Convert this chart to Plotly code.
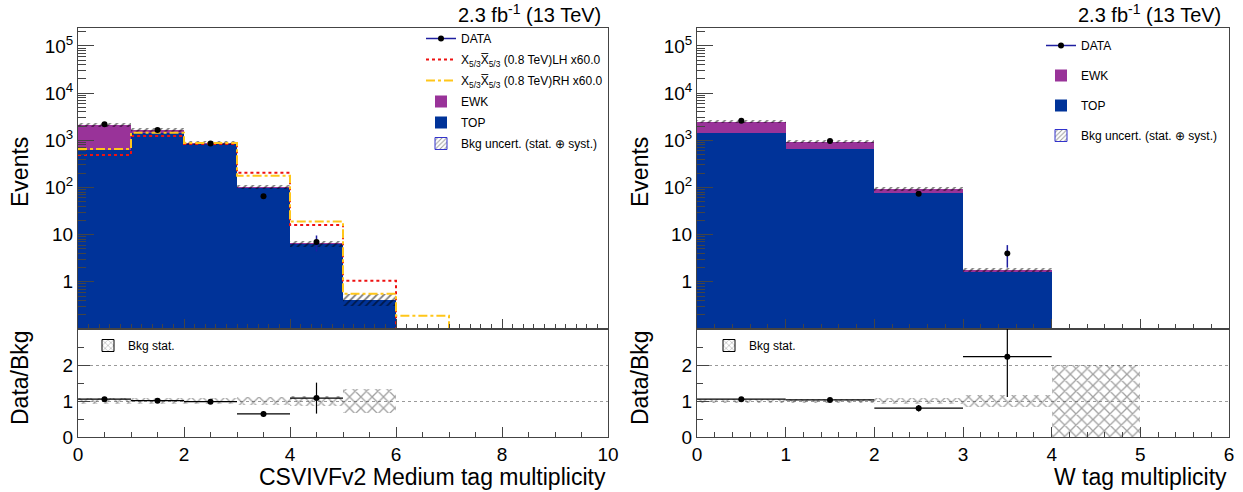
import plotly.graph_objects as go

# ---------------- data ----------------
# Left panel: CSVIVFv2 Medium tag multiplicity (bins 0..9)
left_edges = [0, 1, 2, 3, 4, 5, 6, 7, 8, 9, 10]
left_centers = [0.5, 1.5, 2.5, 3.5, 4.5, 5.5, 6.5, 7.5, 8.5, 9.5]
left_top = [620, 1400, 835, 97, 6.3, 0.42, 0, 0, 0, 0]
left_ewk = [1470, 260, 55, 6, 0.2, 0.0, 0, 0, 0, 0]
left_unc = [220, 150, 80, 12, 0.9, 0.12, 0, 0, 0, 0]
left_lh = [490, 1230, 835, 205, 16, 1.05, 0, 0, 0, 0]
left_rh = [650, 1450, 880, 178, 19, 0.56, 0.19, 0, 0, 0]
left_data_x = [0.5, 1.5, 2.5, 3.5, 4.5]
left_data = [2190, 1660, 860, 65, 7]
left_data_err = [47, 41, 29, 8, 2.6]
left_ratio = [1.05, 1.01, 0.98, 0.64, 1.08]
left_ratio_err = [0.03, 0.03, 0.04, 0.08, 0.43]
left_stat_x = [0.5, 1.5, 2.5, 3.5, 4.5, 5.5]
left_stat_err = [0.09, 0.09, 0.09, 0.12, 0.13, 0.32]

# Right panel: W tag multiplicity (bins 0..5)
right_centers = [0.5, 1.5, 2.5, 3.5, 4.5, 5.5]
right_top = [1400, 660, 78, 1.64, 0, 0]
right_ewk = [1090, 275, 14, 0.14, 0, 0]
right_unc = [200, 70, 9, 0.2, 0, 0]
right_data_x = [0.5, 1.5, 2.5, 3.5]
right_data = [2610, 960, 74, 4]
right_data_err = [51, 31, 8.6, 2]
right_ratio = [1.05, 1.03, 0.80, 2.23]
right_ratio_err = [0.025, 0.04, 0.09, 1.12]
right_stat_x = [0.5, 1.5, 2.5, 3.5, 4.5]
right_stat_err = [0.05, 0.05, 0.07, 0.17, 1.0]

log_tickvals = [1, 10, 100, 1000, 10000, 100000]
log_ticktext = ["1", "10", "10<sup>2</sup>", "10<sup>3</sup>", "10<sup>4</sup>", "10<sup>5</sup>"]
lumi_text = "2.3 fb<sup>-1</sup> (13 TeV)"
sig_lh_name = "X<sub>5/3</sub>X\u0305<sub>5/3</sub> (0.8 TeV)LH x60.0"
sig_rh_name = "X<sub>5/3</sub>X\u0305<sub>5/3</sub> (0.8 TeV)RH x60.0"

# ---------------- style ----------------
W, H = 1243, 492
FONT = "Liberation Sans, Arial, sans-serif"
C_TOP = "#003399"
C_EWK = "#993399"
C_DATA_LINE = "#1f1fa0"
C_FRAME = "#444444"


def px(x):
    return x / W


def py(y):
    return 1 - y / H


LX = [px(78), px(608)]
RX = [px(697), px(1229)]
TOPY = [py(329), py(28)]
RATY = [py(437), py(329)]

fig = go.Figure()


def tiny(vals):
    return [v if v > 0 else 1e-4 for v in vals]


def add_top(xa, ya, centers, top, ewk, unc, dx, dy, dyerr, legend, sigs):
    total = [t + e for t, e in zip(top, ewk)]
    # EWK drawn as full stack height, TOP drawn over it
    fig.add_trace(go.Bar(x=centers, y=tiny(total), width=1, marker=dict(color=C_EWK, line=dict(width=0)),
                         name="EWK", legend=legend, legendgroup=legend + "ewk", legendrank=4,
                         xaxis=xa, yaxis=ya, hoverinfo="skip"))
    fig.add_trace(go.Bar(x=centers, y=tiny(top), width=1, marker=dict(color=C_TOP, line=dict(width=0)),
                         name="TOP", legend=legend, legendgroup=legend + "top", legendrank=5,
                         xaxis=xa, yaxis=ya, hoverinfo="skip"))
    ux, ub, uy = [], [], []
    for c, t, u in zip(centers, total, unc):
        if t > 0 and u > 0:
            ux.append(c)
            ub.append(t - u)
            uy.append(2 * u)
    fig.add_trace(go.Bar(x=ux, y=uy, base=ub, width=1,
                         marker=dict(color="rgba(0,0,0,0)", line=dict(width=0),
                                     pattern=dict(shape="/", fgcolor="#000000", size=5, solidity=0.35)),
                         showlegend=False, xaxis=xa, yaxis=ya, hoverinfo="skip"))
    fig.add_trace(go.Bar(x=[None], y=[None], width=1,
                         marker=dict(color="rgba(255,255,255,0)", line=dict(width=1, color="#3333cc"),
                                     pattern=dict(shape="/", fgcolor="#333333", size=4, solidity=0.3)),
                         name="Bkg uncert. (stat. \u2295 syst.)", legend=legend,
                         legendgroup=legend + "unc", legendrank=6, xaxis=xa, yaxis=ya))
    for (edges, vals, name, color, dash, rank) in sigs:
        fig.add_trace(go.Scatter(x=edges, y=tiny(vals + [vals[-1]]), mode="lines", line_shape="hv",
                                 line=dict(color=color, width=2, dash=dash), name=name,
                                 legend=legend, legendgroup=legend + name, legendrank=rank,
                                 xaxis=xa, yaxis=ya, hoverinfo="skip"))
    fig.add_trace(go.Scatter(x=dx, y=dy, mode="markers",
                             marker=dict(color="black", size=6),
                             error_y=dict(type="data", array=dyerr, color=C_DATA_LINE, thickness=1.5, width=0),
                             showlegend=False, xaxis=xa, yaxis=ya, hoverinfo="skip"))
    fig.add_trace(go.Scatter(x=[None], y=[None], mode="lines+markers",
                             marker=dict(color="black", size=6), line=dict(color=C_DATA_LINE, width=1.5),
                             name="DATA", legend=legend, legendgroup=legend + "data", legendrank=1,
                             xaxis=xa, yaxis=ya))


def add_ratio(xa, ya, stat_x, stat_err, rx, r, rerr, legend):
    fig.add_trace(go.Bar(x=stat_x, y=[2 * e for e in stat_err], base=[1 - e for e in stat_err], width=1,
                         marker=dict(color="rgba(0,0,0,0)", line=dict(width=0),
                                     pattern=dict(shape="x", fgcolor="#444444", size=8, solidity=0.3)),
                         showlegend=False, xaxis=xa, yaxis=ya, hoverinfo="skip"))
    fig.add_trace(go.Bar(x=[None], y=[None], width=1,
                         marker=dict(color="rgba(255,255,255,0)", line=dict(width=1, color="black"),
                                     pattern=dict(shape="x", fgcolor="#444444", size=5, solidity=0.25)),
                         name="Bkg stat.", legend=legend, xaxis=xa, yaxis=ya))
    fig.add_trace(go.Scatter(x=rx, y=r, mode="markers", marker=dict(color="black", size=6),
                             error_y=dict(type="data", array=rerr, color="black", thickness=1.2, width=0),
                             error_x=dict(type="constant", value=0.5, color="black", thickness=1.2, width=0),
                             showlegend=False, xaxis=xa, yaxis=ya, hoverinfo="skip"))


add_top("x", "y", left_centers, left_top, left_ewk, left_unc,
        left_data_x, left_data, left_data_err, "legend",
        [(left_edges, left_lh, sig_lh_name, "#ee1111", "dot", 2),
         (left_edges, left_rh, sig_rh_name, "#ffc61a", "dashdot", 3)])
add_ratio("x2", "y2", left_stat_x, left_stat_err, left_data_x, left_ratio, left_ratio_err, "legend3")
add_top("x3", "y3", right_centers, right_top, right_ewk, right_unc,
        right_data_x, right_data, right_data_err, "legend2", [])
add_ratio("x4", "y4", right_stat_x, right_stat_err, right_data_x, right_ratio, right_ratio_err, "legend4")

tickfont = dict(family=FONT, size=19, color="black")


def xaxis_cfg(domain, rng, dtick, minor_dtick, anchor, labels):
    return dict(domain=domain, range=rng, anchor=anchor, automargin=False, showline=True, mirror=True,
                linecolor=C_FRAME, linewidth=1, ticks="inside", ticklen=10, tickcolor=C_FRAME, dtick=dtick,
                tick0=0, showticklabels=labels, tickfont=tickfont, showgrid=False, zeroline=False,
                minor=dict(ticks="inside", ticklen=5, tickcolor=C_FRAME, dtick=minor_dtick, showgrid=False))


def ytop_cfg(domain, anchor):
    return dict(domain=domain, type="log", range=[-1, 5.38], anchor=anchor, automargin=False,
                showline=True, mirror=True, linecolor=C_FRAME, linewidth=1, ticks="inside", ticklen=16,
                tickcolor=C_FRAME, tickmode="array", tickvals=log_tickvals, ticktext=log_ticktext,
                tickfont=tickfont, showgrid=False, zeroline=False,
                minor=dict(ticks="inside", ticklen=8, tickcolor=C_FRAME, dtick="D1", showgrid=False))


def yrat_cfg(domain, anchor):
    return dict(domain=domain, range=[0, 3], anchor=anchor, automargin=False, showline=True, mirror=True,
                linecolor=C_FRAME, linewidth=1, ticks="inside", ticklen=12, tickcolor=C_FRAME,
                tickmode="array", tickvals=[0, 1, 2], tickfont=tickfont, showgrid=True,
                gridcolor="#9a9a9a", griddash="dot", gridwidth=1, zeroline=False,
                minor=dict(ticks="inside", ticklen=6, tickcolor=C_FRAME, dtick=0.5, showgrid=False))


legfont = dict(family=FONT, size=12, color="black")

fig.update_layout(
    width=W, height=H, autosize=False,
    margin=dict(l=0, r=0, t=0, b=0),
    paper_bgcolor="white", plot_bgcolor="white",
    barmode="overlay", bargap=0,
    font=dict(family=FONT, color="black"),
    xaxis=xaxis_cfg(LX, [0, 10], 2, 0.2, "y", False),
    yaxis=ytop_cfg(TOPY, "x"),
    xaxis2=xaxis_cfg(LX, [0, 10], 2, 0.5, "y2", True),
    yaxis2=yrat_cfg(RATY, "x2"),
    xaxis3=xaxis_cfg(RX, [0, 6], 1, 0.2, "y3", False),
    yaxis3=ytop_cfg(TOPY, "x3"),
    xaxis4=xaxis_cfg(RX, [0, 6], 1, 0.2, "y4", True),
    yaxis4=yrat_cfg(RATY, "x4"),
    legend=dict(x=px(421), y=py(24), xanchor="left", yanchor="top", font=legfont,
                bgcolor="rgba(255,255,255,0)", traceorder="grouped", tracegroupgap=2),
    legend2=dict(x=px(1041), y=py(31), xanchor="left", yanchor="top", font=legfont,
                 bgcolor="rgba(255,255,255,0)", traceorder="grouped", tracegroupgap=11),
    legend3=dict(x=px(88), y=py(331), xanchor="left", yanchor="top", font=legfont,
                 bgcolor="rgba(255,255,255,0)"),
    legend4=dict(x=px(709), y=py(331), xanchor="left", yanchor="top", font=legfont,
                 bgcolor="rgba(255,255,255,0)"),
)

ann_font = dict(family=FONT, size=20, color="black")
title_font = dict(family=FONT, size=23, color="black")
annotations = [
    dict(text=lumi_text, x=px(603), y=py(14), xanchor="right", yanchor="middle", font=ann_font),
    dict(text=lumi_text, x=px(1223), y=py(14), xanchor="right", yanchor="middle", font=ann_font),
    dict(text="CSVIVFv2 Medium tag multiplicity", x=px(608), y=py(477), xanchor="right",
         yanchor="middle", font=title_font),
    dict(text="W tag multiplicity", x=px(1229), y=py(477), xanchor="right", yanchor="middle",
         font=title_font),
    dict(text="Events", x=px(20), y=py(172), textangle=-90, xanchor="center", yanchor="middle",
         font=title_font),
    dict(text="Events", x=px(640), y=py(172), textangle=-90, xanchor="center", yanchor="middle",
         font=title_font),
    dict(text="Data/Bkg", x=px(20), y=py(378), textangle=-90, xanchor="center", yanchor="middle",
         font=title_font),
    dict(text="Data/Bkg", x=px(640), y=py(378), textangle=-90, xanchor="center", yanchor="middle",
         font=title_font),
]
for a in annotations:
    a.update(xref="paper", yref="paper", showarrow=False)
fig.update_layout(annotations=annotations)

# remove the default page margin so the figure fills the window exactly
fig.write_html("out.html", config={"displayModeBar": False},
               post_script="document.body.style.margin='0px';document.body.style.overflow='hidden';")
